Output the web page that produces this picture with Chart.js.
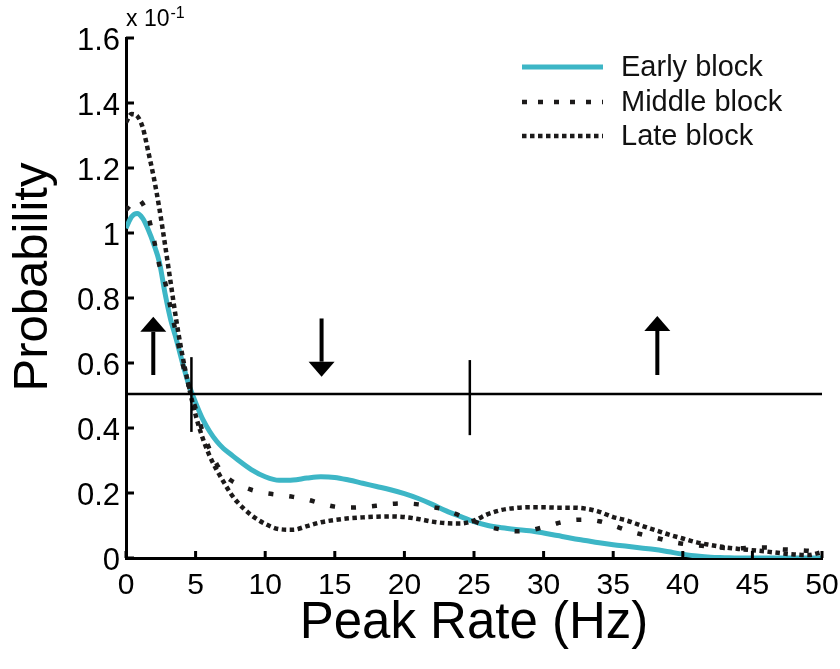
<!DOCTYPE html>
<html>
<head>
<meta charset="utf-8">
<title>Peak Rate distributions</title>
<script src="https://cdn.jsdelivr.net/npm/chart.js@4/dist/chart.umd.min.js"></script>
<style>
  html, body { margin: 0; padding: 0; background: #ffffff; }
  #wrap { width: 840px; height: 669px; }
</style>
</head>
<body>
<div id="wrap"><canvas id="chart" width="840" height="669"></canvas></div>
<script>
// Peak rate (Hz) sample positions shared by the three density curves
const rates = [0, 0.4, 0.8, 1.2, 1.6, 2.0, 2.4, 2.8, 3.2, 3.6, 4.0, 4.5, 5.0, 5.5, 6.0, 6.5,
  7, 7.5, 8, 9, 10, 11, 12, 13, 14, 15, 16, 17, 18, 19, 20, 21, 22, 23, 24, 25,
  26, 27, 28, 29, 30, 31, 32, 33, 34, 35, 36, 37, 38, 39, 40, 41, 42, 43, 44,
  45, 46, 47, 48, 49, 50];

// Probability (x 10^-1) for each block
const earlyBlock = [1.015, 1.05, 1.06, 1.045, 1.01, 0.965, 0.91, 0.815, 0.735, 0.675, 0.61, 0.535, 0.478, 0.428, 0.39, 0.36,
  0.337, 0.32, 0.303, 0.272, 0.25, 0.239, 0.24, 0.246, 0.25, 0.248, 0.24, 0.23, 0.22, 0.21, 0.198, 0.183, 0.165, 0.145, 0.128, 0.112,
  0.1, 0.093, 0.088, 0.084, 0.077, 0.069, 0.061, 0.054, 0.047, 0.041, 0.036, 0.031, 0.026, 0.019, 0.012, 0.006, 0.002, 0.001, 0.0,
  0.0, 0.0, 0.0, 0.0, 0.0, 0.0];

const middleBlock = [1.07, 1.09, 1.105, 1.09, 1.05, 0.98, 0.9, 0.85, 0.77, 0.69, 0.61, 0.53, 0.46, 0.39, 0.335, 0.29,
  0.258, 0.24, 0.228, 0.21, 0.2, 0.194, 0.188, 0.18, 0.168, 0.158, 0.155, 0.157, 0.161, 0.166, 0.168, 0.165, 0.157, 0.148, 0.13, 0.113,
  0.097, 0.087, 0.082, 0.085, 0.095, 0.107, 0.116, 0.118, 0.113, 0.1, 0.085, 0.073, 0.063, 0.052, 0.044, 0.039, 0.035, 0.031, 0.03,
  0.032, 0.032, 0.027, 0.025, 0.022, 0.015];

const lateBlock = [1.34, 1.366, 1.36, 1.325, 1.25, 1.17, 1.075, 0.965, 0.85, 0.735, 0.635, 0.53, 0.44, 0.37, 0.315, 0.272,
  0.235, 0.2, 0.172, 0.132, 0.105, 0.089, 0.087, 0.098, 0.11, 0.117, 0.122, 0.125, 0.127, 0.128, 0.126, 0.12, 0.112, 0.107, 0.106, 0.115,
  0.135, 0.148, 0.154, 0.156, 0.156, 0.155, 0.155, 0.152, 0.142, 0.126, 0.115, 0.1, 0.086, 0.072, 0.06, 0.048, 0.04, 0.033, 0.028,
  0.024, 0.02, 0.015, 0.011, 0.009, 0.018];

const seriesNames = ['Early block', 'Middle block', 'Late block'];

// Axis ranges, tick steps and titles
const xRange = [0, 50];
const xStep = 5;
const yRange = [0, 1.6];
const yStep = 0.2;
const yExponentLabel = ['x 10', '-1'];
const xTitle = 'Peak Rate (Hz)';
const yTitle = 'Probability';

// Reference level and the two boundary marks on it (Hz, probability span)
const referenceLevel = 0.505;
const boundaryRates = [4.7, 24.7];
const boundaryLow = [0.388, 0.378];
const boundaryHigh = [0.618, 0.609];

// Trend arrows: rate, tail and tip levels
const arrowRates = [1.96, 14.05, 38.17];
const arrowTails = [0.563, 0.737, 0.563];
const arrowTips = [0.742, 0.558, 0.745];

const FONT = '"Liberation Sans", Arial, Helvetica, sans-serif';
const INK = '#1c1a1a';

function toPoints(values) {
  return rates.map((r, i) => ({ x: r, y: values[i] }));
}

// Inward tick marks, exponent note and the rotated y title
const axisDecor = {
  id: 'axisDecor',
  afterDraw(chart) {
    const { ctx, chartArea, scales } = chart;
    ctx.save();
    ctx.strokeStyle = '#000';
    ctx.lineWidth = 3;
    scales.x.ticks.forEach(t => {
      const px = scales.x.getPixelForValue(t.value);
      ctx.beginPath();
      ctx.moveTo(px, chartArea.bottom);
      ctx.lineTo(px, chartArea.bottom - 7);
      ctx.stroke();
    });
    scales.y.ticks.forEach(t => {
      const py = scales.y.getPixelForValue(t.value);
      ctx.beginPath();
      ctx.moveTo(chartArea.left, py);
      ctx.lineTo(chartArea.left + 8, py);
      ctx.stroke();
    });

    ctx.fillStyle = '#000';
    ctx.textBaseline = 'alphabetic';
    ctx.textAlign = 'left';
    ctx.font = '23px ' + FONT;
    const ex = chartArea.left;
    const ey = chartArea.top - 12;
    ctx.fillText(yExponentLabel[0], ex, ey);
    const w = ctx.measureText(yExponentLabel[0]).width;
    ctx.font = '16px ' + FONT;
    ctx.fillText(yExponentLabel[1], ex + w + 1, ey - 8);

    ctx.font = '49px ' + FONT;
    ctx.textAlign = 'center';
    ctx.translate(47, 277);
    ctx.rotate(-Math.PI / 2);
    ctx.fillText(yTitle, 0, 0);
    ctx.restore();
  }
};

// Reference level, boundary marks and trend arrows
const annotations = {
  id: 'annotations',
  afterDatasetsDraw(chart) {
    const { ctx, scales } = chart;
    const xs = scales.x, ys = scales.y;
    ctx.save();
    ctx.strokeStyle = '#000';
    ctx.fillStyle = '#000';
    ctx.lineWidth = 2.5;
    ctx.setLineDash([]);
    const ly = ys.getPixelForValue(referenceLevel);
    ctx.beginPath();
    ctx.moveTo(xs.getPixelForValue(xRange[0]), ly);
    ctx.lineTo(xs.getPixelForValue(xRange[1]), ly);
    ctx.stroke();

    boundaryRates.forEach((r, i) => {
      const px = xs.getPixelForValue(r);
      ctx.beginPath();
      ctx.moveTo(px, ys.getPixelForValue(boundaryLow[i]));
      ctx.lineTo(px, ys.getPixelForValue(boundaryHigh[i]));
      ctx.stroke();
    });

    ctx.lineWidth = 4;
    arrowRates.forEach((r, i) => {
      const px = xs.getPixelForValue(r);
      const tail = ys.getPixelForValue(arrowTails[i]);
      const tip = ys.getPixelForValue(arrowTips[i]);
      const dir = tip < tail ? -1 : 1;
      const headLen = 15, headHalf = 13;
      ctx.beginPath();
      ctx.moveTo(px, tail);
      ctx.lineTo(px, tip - dir * headLen);
      ctx.stroke();
      ctx.beginPath();
      ctx.moveTo(px, tip);
      ctx.lineTo(px - headHalf, tip - dir * headLen);
      ctx.lineTo(px + headHalf, tip - dir * headLen);
      ctx.closePath();
      ctx.fill();
    });
    ctx.restore();
  }
};

// Legend in the upper right corner, drawn with each dataset's own stroke
const cornerLegend = {
  id: 'cornerLegend',
  afterDraw(chart) {
    const { ctx } = chart;
    const rows = [67, 102, 136];
    ctx.save();
    chart.data.datasets.forEach((ds, i) => {
      ctx.strokeStyle = ds.borderColor;
      ctx.lineWidth = ds.borderWidth;
      ctx.setLineDash(ds.legendDash || []);
      ctx.beginPath();
      ctx.moveTo(522, rows[i]);
      ctx.lineTo(603, rows[i]);
      ctx.stroke();
      ctx.setLineDash([]);
      ctx.fillStyle = '#111';
      ctx.font = '29px ' + FONT;
      ctx.textAlign = 'left';
      ctx.textBaseline = 'middle';
      ctx.fillText(ds.label, 621, rows[i] + 1);
    });
    ctx.restore();
  }
};

Chart.defaults.font.family = FONT;
Chart.defaults.color = '#000';

new Chart(document.getElementById('chart'), {
  type: 'scatter',
  data: {
    datasets: [
      {
        label: seriesNames[0],
        data: toPoints(earlyBlock),
        showLine: true,
        borderColor: '#3db6c6',
        borderWidth: 5,
        pointRadius: 0,
        cubicInterpolationMode: 'monotone',
        order: 3
      },
      {
        label: seriesNames[1],
        data: toPoints(middleBlock),
        showLine: true,
        borderColor: INK,
        borderWidth: 4.5,
        borderDash: [5, 16],
        legendDash: [5, 11],
        pointRadius: 0,
        cubicInterpolationMode: 'monotone',
        order: 2
      },
      {
        label: seriesNames[2],
        data: toPoints(lateBlock),
        showLine: true,
        borderColor: INK,
        borderWidth: 4.5,
        borderDash: [4.5, 3.5],
        legendDash: [4.5, 3.5],
        pointRadius: 0,
        cubicInterpolationMode: 'monotone',
        order: 1
      }
    ]
  },
  options: {
    responsive: false,
    devicePixelRatio: 1,
    animation: false,
    layout: { padding: { top: 38, right: 18, left: 0, bottom: 0 } },
    plugins: {
      legend: { display: false },
      tooltip: { enabled: false }
    },
    scales: {
      x: {
        type: 'linear',
        min: xRange[0],
        max: xRange[1],
        afterFit(scale) {
          scale.height = 111;
          scale.paddingLeft = 0;
          scale.paddingRight = 0;
        },
        ticks: { stepSize: xStep, font: { size: 30 }, color: '#000', padding: 10, maxRotation: 0 },
        grid: { drawOnChartArea: false, drawTicks: false },
        border: { display: true, color: '#000', width: 3 },
        title: { display: true, text: xTitle, font: { size: 51 }, color: '#000', padding: { top: 0, bottom: 14 } }
      },
      y: {
        type: 'linear',
        min: yRange[0],
        max: yRange[1],
        afterFit(scale) {
          scale.width = 126;
          scale.paddingTop = 0;
          scale.paddingBottom = 0;
        },
        ticks: {
          stepSize: yStep,
          font: { size: 31 },
          color: '#000',
          padding: 6,
          labelOffset: 3,
          callback: v => String(Math.round(v * 10) / 10)
        },
        grid: { drawOnChartArea: false, drawTicks: false },
        border: { display: true, color: '#000', width: 3 }
      }
    }
  },
  plugins: [annotations, axisDecor, cornerLegend]
});
</script>
</body>
</html>
